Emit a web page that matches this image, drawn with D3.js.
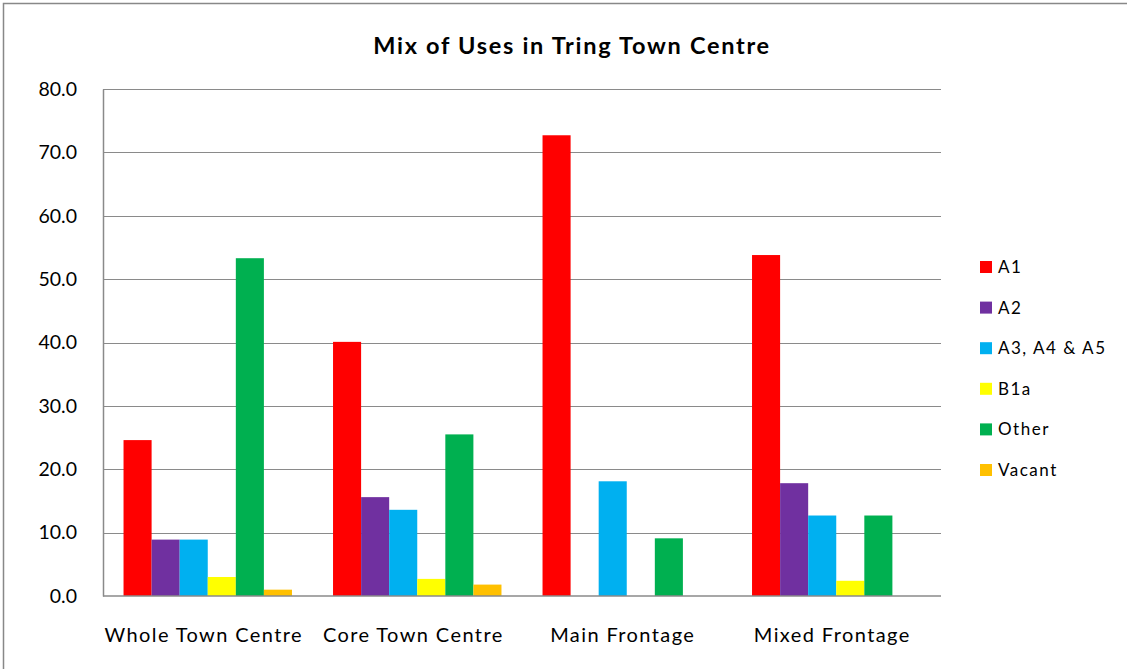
<!DOCTYPE html>
<html><head><meta charset="utf-8">
<script src="https://cdn.jsdelivr.net/npm/d3@7"></script>
<style>body{margin:0;background:#fff}svg{display:block}</style>
</head><body>
<svg id="c" width="1127" height="669"></svg>
<script>
const categories = ["Whole Town Centre", "Core Town Centre", "Main Frontage", "Mixed Frontage"];
const seriesNames = ["A1", "A2", "A3, A4 & A5", "B1a", "Other", "Vacant"];
const seriesColors = ["#FF0000", "#7030A0", "#00B0F0", "#FFFF00", "#00B050", "#FFC000"];
const A1 = [24.6, 40.1, 72.7, 53.8];
const A2 = [8.9, 15.6, 0, 17.8];
const A3A4A5 = [8.9, 13.6, 18.1, 12.7];
const B1a = [3.0, 2.7, 0, 2.4];
const Other = [53.3, 25.5, 9.1, 12.7];
const Vacant = [1.0, 1.8, 0, 0];
const yTicks = [0, 10, 20, 30, 40, 50, 60, 70, 80];
const title = "Mix of Uses in Tring Town Centre";

(function () {
const seriesValues = [A1, A2, A3A4A5, B1a, Other, Vacant];
const font = "Lato, 'Open Sans', sans-serif";
const svg = d3.select("#c");

// outer frame
svg.append("rect").attr("x", 3.5).attr("y", 3.5).attr("width", 1130).attr("height", 700)
  .attr("fill", "none").attr("stroke", "#888").attr("stroke-width", 1.5);

const pl = 103, pr = 941, pt = 89, pb = 596;
const x0 = d3.scaleBand().domain(categories).range([pl, pr]).paddingInner(0.196).paddingOuter(0.098);
const x1 = d3.scaleBand().domain(seriesNames).range([0, x0.bandwidth()]);
const y = d3.scaleLinear().domain([0, 80]).range([pb, pt]);

// gridlines
svg.append("g").selectAll("line").data(yTicks.filter(d => d > 0)).join("line")
  .attr("x1", pl).attr("x2", pr)
  .attr("y1", d => Math.round(y(d)) + 0.5).attr("y2", d => Math.round(y(d)) + 0.5)
  .attr("stroke", "#8a8a8a").attr("stroke-width", 1.2);

// y axis
const yAxis = d3.axisLeft(y).tickValues(yTicks).tickFormat(d3.format(".1f")).tickSize(0).tickPadding(26);
const gy = svg.append("g").attr("transform", `translate(${pl},0)`).call(yAxis);
gy.select(".domain").attr("stroke", "#8a8a8a").attr("stroke-width", 1.5);
gy.selectAll("text").attr("font-family", font).attr("font-size", 19.5).attr("fill", "#000");

// bars
const groups = svg.append("g").selectAll("g").data(categories).join("g")
  .attr("transform", d => `translate(${x0(d)},0)`);
groups.selectAll("rect").data((c, ci) => seriesNames.map((s, si) => ({s, si, v: seriesValues[si][ci]})))
  .join("rect")
  .attr("x", d => x1(d.s)).attr("width", x1.bandwidth())
  .attr("y", d => y(d.v)).attr("height", d => y(0) - y(d.v))
  .attr("fill", d => seriesColors[d.si]);

// x axis
const xAxis = d3.axisBottom(x0).tickSize(0).tickPadding(32);
const gx = svg.append("g").attr("transform", `translate(0,${pb})`).call(xAxis);
gx.select(".domain").attr("stroke", "#8a8a8a").attr("stroke-width", 1.5).attr("d", `M${pl},0H${pr}`);
gx.selectAll("text").attr("font-family", font).attr("font-size", 20).attr("letter-spacing", 1.4)
  .attr("fill", "#000").attr("dx", -4);

// title
svg.append("text").attr("x", 572).attr("y", 54).attr("text-anchor", "middle")
  .attr("font-family", font).attr("font-weight", "bold").attr("font-size", 23.5)
  .attr("letter-spacing", 1.7).text(title);

// legend
const lg = svg.append("g").selectAll("g").data(seriesNames).join("g")
  .attr("transform", (d, i) => `translate(980,${273 + i * 40.6})`);
lg.append("rect").attr("x", 0).attr("y", -12).attr("width", 12).attr("height", 12)
  .attr("fill", (d, i) => seriesColors[i]);
lg.append("text").attr("x", 18).attr("y", 0).attr("font-family", font).attr("font-size", 17)
  .attr("letter-spacing", 1.5).text(d => d);
})();
</script>
</body></html>
